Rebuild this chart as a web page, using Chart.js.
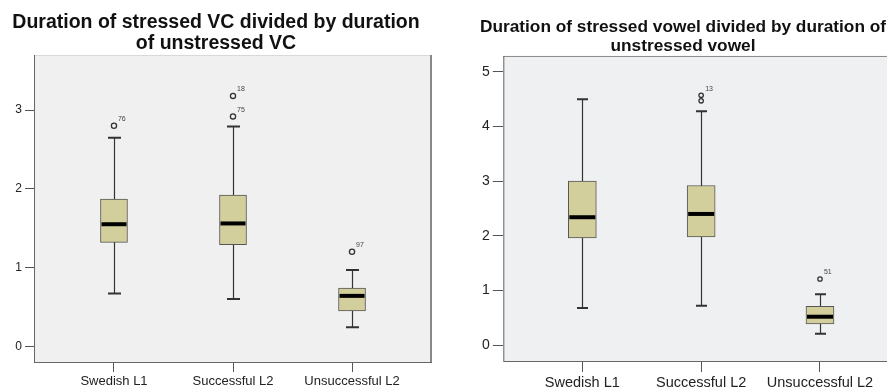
<!DOCTYPE html>
<html>
<head>
<meta charset="utf-8">
<script src="https://cdn.jsdelivr.net/npm/chart.js@4.4.0/dist/chart.umd.min.js"></script>
<style>
    body { margin: 0; background: #fff; overflow: hidden; width: 887px; height: 390px; position: relative; }
    #leftBox { position: absolute; left: 0; top: 0; }
    #rightBox { position: absolute; left: 467px; top: 0; }
</style>
</head>
<body>
<canvas id="leftBox" width="434" height="390"></canvas>
<canvas id="rightBox" width="432" height="390"></canvas>
<script>
// Kategori
const groups = ['Swedish L1', 'Successful L2', 'Unsuccessful L2'];

// Grafik kiri: stressed VC / unstressed VC
const vcMin = [0.67, 0.60, 0.24];
const vcQ1 = [1.32, 1.29, 0.45];
const vcMedian = [1.55, 1.56, 0.64];
const vcQ3 = [1.87, 1.92, 0.74];
const vcMax = [2.65, 2.79, 0.97];
const vcOutGroup = [0, 1, 1, 2];
const vcOutValue = [2.80, 2.92, 3.18, 1.20];
const vcOutLabel = ['76', '75', '18', '97'];
const vcTicks = [0, 1, 2, 3];

// Grafik kanan: stressed vowel / unstressed vowel
const vMin = [0.68, 0.72, 0.21];
const vQ1 = [1.96, 1.98, 0.39];
const vMedian = [2.34, 2.40, 0.52];
const vQ3 = [3.00, 2.92, 0.71];
const vMax = [4.50, 4.28, 0.93];
const vOutGroup = [1, 1, 2];
const vOutValue = [4.57, 4.47, 1.21];
const vOutLabel = ['13', '', '51'];
const vTicks = [0, 1, 2, 3, 4, 5];

const FONT = "Arial, 'Liberation Sans', sans-serif";

/**
 * Plugin untuk latar, whisker, median, bingkai dan label outlier
 */
const boxPlotPlugin = {
    id: 'boxPlot',
    beforeDatasetsDraw(chart, args, opts) {
        const { ctx, chartArea: a, scales: { x, y } } = chart;
        ctx.save();
        ctx.fillStyle = opts.bg;
        ctx.fillRect(a.left, a.top, a.right - a.left, a.bottom - a.top);
        // whisker
        ctx.strokeStyle = '#333';
        opts.min.forEach((lo, i) => {
            const px = Math.round(x.getPixelForValue(i)) + 0.5;
            const yLo = y.getPixelForValue(lo);
            const yHi = y.getPixelForValue(opts.max[i]);
            ctx.lineWidth = 1.2;
            ctx.beginPath();
            ctx.moveTo(px, yLo);
            ctx.lineTo(px, yHi);
            ctx.stroke();
            ctx.lineWidth = 2;
            ctx.beginPath();
            ctx.moveTo(px - opts.cap / 2, yLo);
            ctx.lineTo(px + opts.cap / 2, yLo);
            ctx.moveTo(px - opts.cap / 2, yHi);
            ctx.lineTo(px + opts.cap / 2, yHi);
            ctx.stroke();
        });
        ctx.restore();
    },
    afterDatasetsDraw(chart, args, opts) {
        const { ctx, chartArea: a, scales: { x, y } } = chart;
        ctx.save();
        // median
        ctx.strokeStyle = '#000';
        ctx.lineWidth = 4;
        opts.median.forEach((m, i) => {
            const px = x.getPixelForValue(i);
            const py = y.getPixelForValue(m);
            ctx.beginPath();
            ctx.moveTo(px - opts.boxW / 2 + 1, py);
            ctx.lineTo(px + opts.boxW / 2 - 1, py);
            ctx.stroke();
        });
        // label outlier
        ctx.fillStyle = '#444';
        ctx.font = '7px ' + FONT;
        ctx.textAlign = 'left';
        ctx.textBaseline = 'bottom';
        opts.outGroup.forEach((g, i) => {
            if (!opts.outLabel[i]) return;
            ctx.fillText(opts.outLabel[i], x.getPixelForValue(g) + 4, y.getPixelForValue(opts.outValue[i]) - 3);
        });
        // bingkai
        ctx.lineWidth = 1;
        ctx.strokeStyle = opts.topColor;
        ctx.beginPath();
        ctx.moveTo(a.left, a.top + 0.5);
        ctx.lineTo(a.right, a.top + 0.5);
        ctx.stroke();
        ctx.strokeStyle = '#666';
        ctx.beginPath();
        ctx.moveTo(a.left + 0.5, a.top);
        ctx.lineTo(a.left + 0.5, a.bottom);
        ctx.moveTo(a.left, a.bottom + 0.5);
        ctx.lineTo(a.right, a.bottom + 0.5);
        ctx.stroke();
        ctx.strokeStyle = '#888';
        ctx.lineWidth = 2;
        ctx.beginPath();
        ctx.moveTo(a.right - 1, a.top);
        ctx.lineTo(a.right - 1, a.bottom);
        ctx.stroke();
        ctx.restore();
    }
};

function makeBoxChart(id, cfg) {
    const boxes = cfg.q1.map((q, i) => ({ x: i, y: [q, cfg.q3[i]] }));
    const outliers = cfg.outGroup.map((g, i) => ({ x: g, y: cfg.outValue[i] }));

    return new Chart(document.getElementById(id), {
        type: 'bar',
        data: {
            datasets: [
                {
                    type: 'bar',
                    data: boxes,
                    backgroundColor: '#d3cf9c',
                    borderColor: '#555',
                    borderWidth: 1,
                    borderSkipped: false,
                    barThickness: cfg.boxW
                },
                {
                    type: 'scatter',
                    data: outliers,
                    showLine: false,
                    pointRadius: cfg.outR,
                    pointBackgroundColor: 'rgba(0,0,0,0)',
                    pointBorderColor: '#333',
                    pointBorderWidth: 1.3
                }
            ]
        },
        options: {
            responsive: false,
            animation: false,
            layout: { autoPadding: false, padding: { left: 0, right: cfg.padRight, top: 0, bottom: 0 } },
            plugins: {
                legend: { display: false },
                tooltip: { enabled: false },
                title: {
                    display: true,
                    text: cfg.title,
                    color: '#111',
                    font: { family: FONT, size: cfg.titleSize, weight: 'bold', lineHeight: cfg.titleLH },
                    padding: cfg.titlePad
                },
                boxPlot: {
                    bg: cfg.bg,
                    topColor: cfg.topColor,
                    min: cfg.min,
                    max: cfg.max,
                    median: cfg.median,
                    outGroup: cfg.outGroup,
                    outValue: cfg.outValue,
                    outLabel: cfg.outLabel,
                    cap: cfg.cap,
                    boxW: cfg.boxW
                }
            },
            scales: {
                x: {
                    type: 'linear',
                    offset: false,
                    min: cfg.xMin,
                    max: cfg.xMax,
                    afterBuildTicks: s => { s.ticks = groups.map((g, i) => ({ value: i })); },
                    afterFit: s => { s.height = cfg.xHeight; },
                    ticks: {
                        callback: v => groups[v],
                        color: '#222',
                        padding: 2,
                        maxRotation: 0,
                        autoSkip: false,
                        font: { family: FONT, size: cfg.xFont }
                    },
                    grid: { offset: false, drawOnChartArea: false, drawTicks: true, tickLength: cfg.xTickLen, color: '#555' },
                    border: { display: false }
                },
                y: {
                    type: 'linear',
                    min: cfg.yMin,
                    max: cfg.yMax,
                    afterBuildTicks: s => { s.ticks = cfg.ticks.map(v => ({ value: v })); },
                    afterFit: s => { s.width = cfg.yWidth; },
                    ticks: {
                        color: '#222',
                        padding: 3,
                        font: { family: FONT, size: cfg.yFont }
                    },
                    grid: { drawOnChartArea: false, drawTicks: true, tickLength: cfg.yTickLen, color: '#555' },
                    border: { display: false }
                }
            }
        },
        plugins: [boxPlotPlugin]
    });
}

makeBoxChart('leftBox', {
    title: ['Duration of stressed VC divided by duration', 'of unstressed VC'],
    titleSize: 19.5, titleLH: 1.03, titlePad: { top: 13, bottom: 1.8 },
    q1: vcQ1, q3: vcQ3, min: vcMin, max: vcMax, median: vcMedian,
    outGroup: vcOutGroup, outValue: vcOutValue, outLabel: vcOutLabel, ticks: vcTicks,
    yMin: -0.2, yMax: 3.7, xMin: -0.672, xMax: 2.672,
    yWidth: 34, xHeight: 28, padRight: 2,
    yFont: 12, xFont: 13, yTickLen: 9, xTickLen: 10,
    boxW: 27, cap: 13, outR: 2.6,
    bg: '#f0f0f0', topColor: '#d8d8d8'
});

makeBoxChart('rightBox', {
    title: ['Duration of stressed vowel divided by duration of', 'unstressed vowel'],
    titleSize: 17.3, titleLH: 1.1, titlePad: { top: 17.5, bottom: 0.4 },
    q1: vQ1, q3: vQ3, min: vMin, max: vMax, median: vMedian,
    outGroup: vOutGroup, outValue: vOutValue, outLabel: vOutLabel, ticks: vTicks,
    yMin: -0.29, yMax: 5.29, xMin: -0.665, xMax: 2.665,
    yWidth: 36.3, xHeight: 29, padRight: 0,
    yFont: 14, xFont: 14.5, yTickLen: 10.5, xTickLen: 11,
    boxW: 28, cap: 11, outR: 2.2,
    bg: '#eef0f2', topColor: '#888'
});
</script>
</body>
</html>
